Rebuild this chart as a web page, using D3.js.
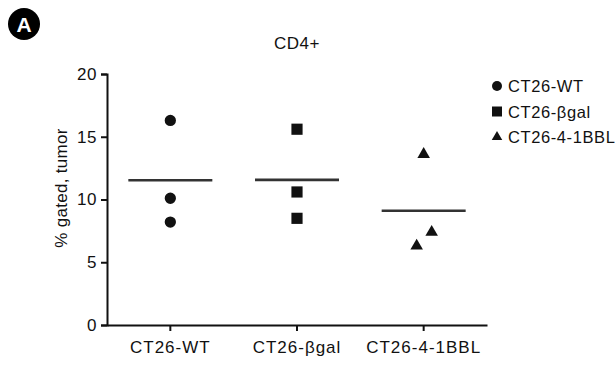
<!DOCTYPE html>
<html>
<head>
<meta charset="utf-8">
<script src="https://cdn.jsdelivr.net/npm/d3@7"></script>
<style>
  body { margin: 0; background: #fff; }
  text { font-family: "Liberation Sans", Arial, sans-serif; fill: #111; }
</style>
</head>
<body>
<svg id="chart" width="615" height="365"></svg>
<script>
var groups = ["CT26-WT", "CT26-\u03b2gal", "CT26-4-1BBL"];
var shapes = ["circle", "square", "triangle"];
// replicate values per group (% gated, tumor)
var wtVals = [16.3, 10.1, 8.2];
var bgalVals = [15.6, 10.6, 8.5];
var bblVals = [13.6, 7.4, 6.3];
// small horizontal offsets of points within a group, as in the figure
var bblOffsets = [0, 8, -7];
var yTicks = [0, 5, 10, 15, 20];

var allVals = [wtVals, bgalVals, bblVals];
var offsets = [[0, 0, 0], [0, 0, 0], bblOffsets];

var width = 615, height = 365;
var margin = {left: 107, right: 128, top: 74, bottom: 40};

function draw()
{
    var svg = d3.select("svg");

    var x = d3.scaleBand().domain(groups).range([margin.left, width - margin.right]),
        y = d3.scaleLinear().domain([0, 20]).range([height - margin.bottom, margin.top]);

    var symbolType = {circle: d3.symbolCircle, square: d3.symbolSquare, triangle: d3.symbolTriangle};
    var symbolSize = {circle: 100, square: 125, triangle: 68};
    var legendSize = {circle: 78, square: 100, triangle: 48};

    // panel letter
    svg.append("circle").attr("cx", 24).attr("cy", 24).attr("r", 16).attr("fill", "#000");
    svg.append("text").attr("x", 24).attr("y", 31.5).attr("text-anchor", "middle")
      .style("fill", "#fff").style("font-size", "21px").style("font-weight", "bold").text("A");

    // title
    svg.append("text").attr("x", 297).attr("y", 49).attr("text-anchor", "middle")
      .style("font-size", "17px").style("letter-spacing", "0.5px").text("CD4+");

    // y axis
    var yAxis = svg.append("g").attr("transform", "translate(" + margin.left + ",0)")
      .call(d3.axisLeft(y).tickValues(yTicks).tickSize(6).tickPadding(4));
    yAxis.selectAll("text").style("font-size", "17px").style("letter-spacing", "0.5px");

    // x axis
    var xAxis = svg.append("g").attr("transform", "translate(0," + y(0) + ")")
      .call(d3.axisBottom(x).tickSize(6).tickPadding(10).tickSizeOuter(0));
    xAxis.selectAll("text").style("font-size", "17px").style("letter-spacing", "1px");

    svg.selectAll(".domain, .tick line").attr("stroke", "#111").attr("stroke-width", 2);

    // y label
    svg.append("text")
      .attr("transform", "translate(67,188) rotate(-90)")
      .attr("text-anchor", "middle").style("font-size", "17px").style("letter-spacing", "0.3px")
      .text("% gated, tumor");

    // mean lines and points
    groups.forEach(function(g, i) {
      var vals = allVals[i], cx = x(g) + x.bandwidth() / 2;
      svg.append("line")
        .attr("x1", cx - 42).attr("x2", cx + 42)
        .attr("y1", y(d3.mean(vals))).attr("y2", y(d3.mean(vals)))
        .attr("stroke", "#333").attr("stroke-width", 2.6);
      vals.forEach(function(v, j) {
        svg.append("path")
          .attr("d", d3.symbol().type(symbolType[shapes[i]]).size(symbolSize[shapes[i]])())
          .attr("transform", "translate(" + (cx + offsets[i][j]) + "," + y(v) + ")")
          .attr("fill", "#111");
      });
    });

    // legend
    groups.forEach(function(g, i) {
      var ly = 86 + i * 25.5;
      svg.append("path")
        .attr("d", d3.symbol().type(symbolType[shapes[i]]).size(legendSize[shapes[i]])())
        .attr("transform", "translate(497," + ly + ")")
        .attr("fill", "#111");
      svg.append("text").attr("x", 508).attr("y", ly + 6)
        .style("font-size", "16.5px").style("letter-spacing", "0.6px").text(g);
    });
}

draw();
</script>
</body>
</html>
